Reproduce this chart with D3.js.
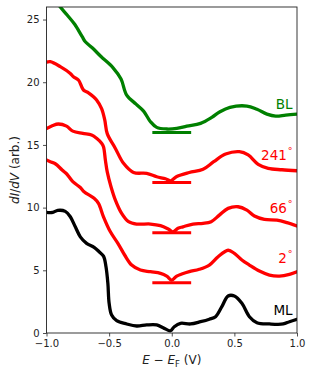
<!DOCTYPE html>
<html>
  <head>
    <meta charset="utf-8" />
    <title>dI/dV spectra</title>
    <script src="https://d3js.org/d3.v7.min.js"></script>
    <style>
        body{
            margin: 0;
            background: #fff;
        }
        text{
            font-family: "DejaVu Sans", sans-serif;
        }
    </style>
  </head>
  <body>
    <svg id="vis"></svg>

    <script>
        // spectra (x in V, y in arb. units, already offset)
        var mlX = [-1.0, -0.95, -0.91, -0.85, -0.81, -0.77, -0.73, -0.68, -0.62, -0.58, -0.545, -0.525, -0.51, -0.5, -0.48, -0.44, -0.36, -0.28, -0.2, -0.12, -0.06, -0.01, 0.02, 0.07, 0.15, 0.23, 0.3, 0.35, 0.4, 0.45, 0.5, 0.56, 0.62, 0.68, 0.78, 0.89, 0.94, 1.0];
        var mlY = [9.62, 9.62, 9.78, 9.7, 9.27, 8.47, 7.67, 7.15, 6.83, 6.48, 6.13, 5.28, 3.96, 2.37, 1.43, 0.98, 0.72, 0.56, 0.64, 0.64, 0.37, 0.18, 0.5, 0.77, 0.72, 0.9, 1.1, 1.3, 2.1, 2.95, 2.95, 2.37, 1.3, 0.82, 0.72, 0.72, 0.9, 1.09];

        var t2X = [-1.0, -0.97, -0.93, -0.875, -0.84, -0.79, -0.73, -0.70, -0.62, -0.585, -0.545, -0.49, -0.43, -0.375, -0.32, -0.25, -0.17, -0.09, -0.04, 0.0, 0.04, 0.08, 0.14, 0.22, 0.3, 0.37, 0.45, 0.5, 0.56, 0.62, 0.7, 0.78, 0.86, 0.94, 1.0];
        var t2Y = [13.8, 13.66, 13.5, 13.0, 12.7, 12.07, 11.6, 11.27, 10.74, 10.34, 9.27, 8.07, 7.15, 6.2, 5.42, 5.02, 4.89, 4.76, 4.54, 4.22, 4.54, 4.7, 4.89, 5.08, 5.42, 6.08, 6.6, 6.35, 5.82, 5.42, 4.94, 4.62, 4.54, 4.68, 4.89];

        var t66X = [-1.0, -0.95, -0.905, -0.84, -0.79, -0.71, -0.64, -0.6, -0.56, -0.545, -0.53, -0.515, -0.485, -0.45, -0.4, -0.345, -0.28, -0.17, -0.09, -0.025, 0.01, 0.05, 0.09, 0.17, 0.25, 0.315, 0.38, 0.45, 0.53, 0.6, 0.66, 0.74, 0.84, 0.92, 1.0];
        var t66Y = [16.3, 16.55, 16.67, 16.5, 16.1, 15.92, 15.79, 15.53, 15.13, 14.86, 13.8, 12.85, 11.67, 10.6, 9.54, 8.88, 8.69, 8.69, 8.56, 8.27, 8.07, 8.35, 8.47, 8.69, 8.74, 8.88, 9.4, 9.94, 10.07, 9.8, 9.33, 9.06, 9.0, 8.8, 8.53];

        var t241X = [-1.0, -0.97, -0.89, -0.81, -0.785, -0.745, -0.705, -0.665, -0.625, -0.6, -0.56, -0.535, -0.515, -0.45, -0.385, -0.305, -0.2, -0.12, -0.05, -0.01, 0.04, 0.14, 0.25, 0.335, 0.43, 0.54, 0.61, 0.69, 0.77, 0.88, 1.0];
        var t241Y = [21.6, 21.64, 21.24, 20.7, 20.44, 20.18, 19.38, 19.16, 18.84, 18.58, 17.9, 16.99, 15.9, 14.72, 13.53, 12.8, 12.73, 12.46, 12.3, 12.14, 12.48, 12.8, 13.06, 13.66, 14.27, 14.46, 14.2, 13.45, 13.13, 13.02, 12.94];

        var blX = [-1.0, -0.95, -0.89, -0.835, -0.775, -0.715, -0.69, -0.635, -0.565, -0.47, -0.405, -0.36, -0.285, -0.225, -0.17, -0.12, -0.04, 0.04, 0.12, 0.23, 0.32, 0.385, 0.465, 0.6, 0.68, 0.76, 0.83, 0.91, 1.0];
        var blY = [27.4, 26.8, 26.0, 25.36, 24.62, 23.63, 23.23, 22.75, 22.05, 21.17, 20.25, 18.98, 18.25, 17.7, 16.85, 16.4, 16.27, 16.32, 16.5, 16.72, 17.2, 17.65, 18.0, 18.1, 17.84, 17.46, 17.3, 17.38, 17.46];

        var seriesNames = ["ML", "2", "66", "241", "BL"];
        var seriesColors = ["#000000", "#ff0000", "#ff0000", "#ff0000", "#008000"];
        var seriesX = [mlX, t2X, t66X, t241X, blX];
        var seriesY = [mlY, t2Y, t66Y, t241Y, blY];
        var seriesDegree = [false, true, true, true, false];
        // zero-level markers and label positions
        var baseLevels = [null, 4, 8, 12, 16];
        var labelY = [1.4, 5.6, 9.6, 13.8, 17.9];

        var xTicks = [-1.0, -0.5, 0.0, 0.5, 1.0];
        var yTicks = [0, 5, 10, 15, 20, 25];

        var width = 312, height = 377;
        var margin = {top: 7, right: 15, bottom: 44, left: 46.5};
        var w = width - margin.left - margin.right;
        var h = height - margin.top - margin.bottom;

        var svg = d3.select("#vis").attr("width", width).attr("height", height);

        var x = d3.scaleLinear().domain([-1, 1]).range([0, w]);
        var y = d3.scaleLinear().domain([0, 26]).range([h, 0]);

        var g = svg.append("g").attr("transform", "translate(" + margin.left + "," + margin.top + ")");

        g.append("clipPath").attr("id", "clip")
            .append("rect").attr("width", w).attr("height", h);

        var line = d3.line()
            .x(function(d) { return x(d[0]); })
            .y(function(d) { return y(d[1]); })
            .curve(d3.curveCatmullRom.alpha(0.5));

        var plot = g.append("g").attr("clip-path", "url(#clip)");

        seriesNames.forEach(function(name, i) {
            var pts = d3.zip(seriesX[i], seriesY[i]);
            plot.append("path")
                .attr("d", line(pts))
                .attr("fill", "none")
                .attr("stroke", seriesColors[i])
                .attr("stroke-width", 3.3)
                .attr("stroke-linejoin", "round")
                .attr("stroke-linecap", "round");

            if (baseLevels[i] !== null) {
                plot.append("line")
                    .attr("x1", x(-0.155)).attr("x2", x(0.155))
                    .attr("y1", y(baseLevels[i])).attr("y2", y(baseLevels[i]))
                    .attr("stroke", seriesColors[i])
                    .attr("stroke-width", 3);
            }

            var t = g.append("text")
                .attr("x", x(0.965))
                .attr("y", y(labelY[i]))
                .attr("text-anchor", "end")
                .attr("fill", seriesColors[i])
                .style("font-size", "13.5px")
                .text(name);
            if (seriesDegree[i]) {
                t.append("tspan")
                    .attr("dx", 1)
                    .attr("dy", -6)
                    .style("font-size", "9.5px")
                    .text("\u00b0");
            }
        });

        // axes
        var xAxis = d3.axisBottom(x).tickValues(xTicks).tickFormat(function(d) {
            return d3.format(".1f")(d).replace("-", "\u2212");
        }).tickSizeOuter(0).tickSize(3.5).tickPadding(3.5);
        var yAxis = d3.axisLeft(y).tickValues(yTicks).tickFormat(d3.format("d"))
            .tickSizeOuter(0).tickSize(3.5).tickPadding(3.5);

        var gx = g.append("g").attr("transform", "translate(0," + h + ")").call(xAxis);
        var gy = g.append("g").call(yAxis);
        [gx, gy].forEach(function(a) {
            a.select(".domain").remove();
            a.selectAll("text").style("font-size", "10px").style("font-family", "DejaVu Sans").attr("fill", "#222");
            a.selectAll("line").attr("stroke", "#222").attr("stroke-width", 0.8);
        });

        g.append("rect")
            .attr("width", w).attr("height", h)
            .attr("fill", "none")
            .attr("stroke", "#222")
            .attr("stroke-width", 0.9);

        // axis labels
        var xl = svg.append("text")
            .attr("x", margin.left + w / 2)
            .attr("y", 364)
            .attr("text-anchor", "middle")
            .attr("fill", "#222")
            .style("font-size", "12px");
        xl.append("tspan").style("font-style", "italic").text("E");
        xl.append("tspan").text(" \u2212 ");
        xl.append("tspan").style("font-style", "italic").text("E");
        xl.append("tspan").attr("dy", 3).style("font-size", "8.5px").text("F");
        xl.append("tspan").attr("dy", -3).text(" (V)");

        var yl = svg.append("text")
            .attr("transform", "translate(18.5," + (margin.top + h / 2) + ") rotate(-90)")
            .attr("text-anchor", "middle")
            .attr("fill", "#222")
            .style("font-size", "12px");
        yl.append("tspan").style("font-style", "italic").text("dI");
        yl.append("tspan").text("/");
        yl.append("tspan").style("font-style", "italic").text("dV");
        yl.append("tspan").text(" (arb.)");
    </script>
  </body>
</html>
